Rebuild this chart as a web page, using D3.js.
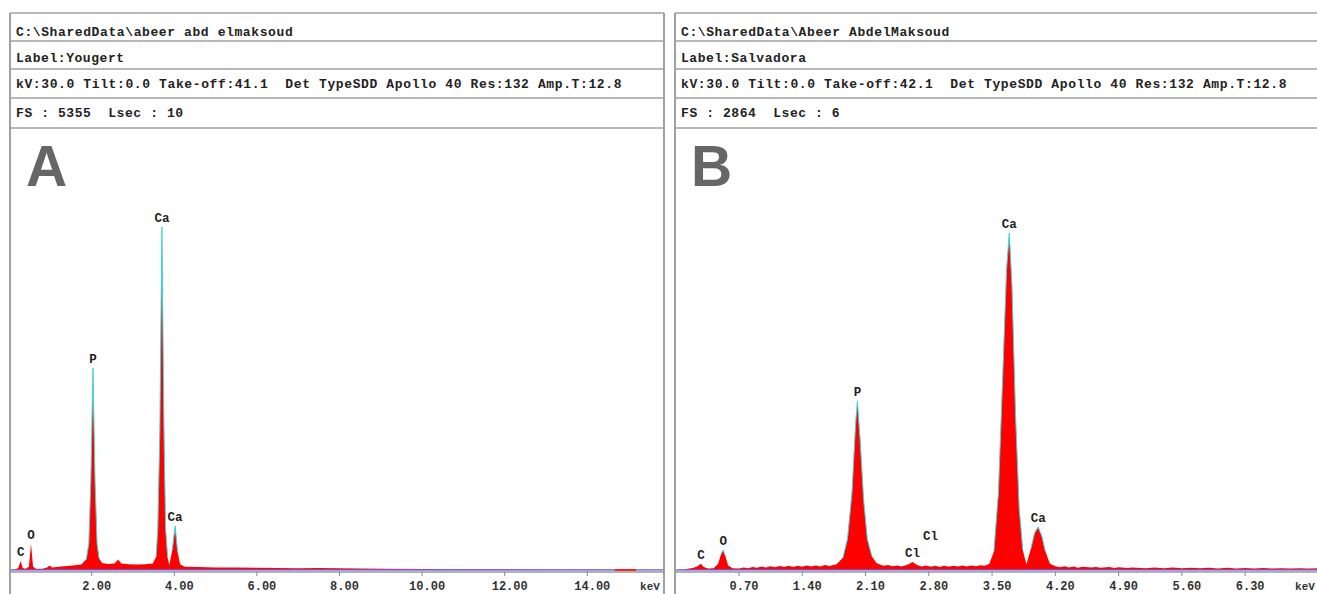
<!DOCTYPE html>
<html>
<head>
<meta charset="utf-8">
<script src="https://d3js.org/d3.v7.min.js"></script>
<style>
  body { margin: 0; background: #fff; }
</style>
</head>
<body>
<div id="my_dataviz"></div>
<script>

// header lines of the two EDS panels
var headerA = ["C:\\SharedData\\abeer abd elmaksoud", "Label:Yougert",
  "kV:30.0 Tilt:0.0 Take-off:41.1  Det TypeSDD Apollo 40 Res:132 Amp.T:12.8", "FS : 5355  Lsec : 10"];
var headerB = ["C:\\SharedData\\Abeer AbdelMaksoud", "Label:Salvadora",
  "kV:30.0 Tilt:0.0 Take-off:42.1  Det TypeSDD Apollo 40 Res:132 Amp.T:12.8", "FS : 2864  Lsec : 6"];

// x ticks (keV)
var ticksA = [2, 4, 6, 8, 10, 12, 14];
var ticksB = [0.7, 1.4, 2.1, 2.8, 3.5, 4.2, 4.9, 5.6, 6.3];

// spectrum A : [keV, counts]
var spectrumA = [
  [0.00, 0], [0.15, 10], [0.22, 25], [0.28, 110], [0.33, 25], [0.40, 15],
  [0.48, 40], [0.53, 320], [0.58, 40], [0.65, 15], [0.80, 15], [0.92, 30],
  [0.98, 55], [1.04, 30], [1.20, 40], [1.40, 48], [1.60, 58], [1.75, 68],
  [1.87, 130], [1.93, 320], [1.98, 1100], [2.03, 2450], [2.08, 1100], [2.13, 320],
  [2.18, 140], [2.25, 85], [2.40, 72], [2.55, 80], [2.64, 125], [2.72, 80],
  [2.90, 70], [3.10, 68], [3.30, 70], [3.48, 80], [3.56, 160], [3.60, 500],
  [3.65, 1700], [3.70, 4165], [3.75, 1700], [3.79, 500], [3.84, 150], [3.88, 60],
  [3.95, 240], [4.02, 535], [4.08, 220], [4.14, 70], [4.25, 40], [4.60, 35],
  [5.00, 30], [5.50, 30], [6.00, 28], [6.50, 25], [7.00, 22], [7.50, 25],
  [8.00, 20], [8.50, 18], [9.00, 15], [10.0, 12], [11.0, 10], [12.0, 8],
  [13.0, 6], [14.0, 5], [15.85, 4]
];

// spectrum B : [keV, counts]
var spectrumB = [
  [0.00, 0], [0.10, 5], [0.20, 15], [0.24, 25], [0.28, 40], [0.31, 20],
  [0.36, 10], [0.42, 12], [0.47, 40], [0.50, 100], [0.525, 130], [0.55, 90],
  [0.58, 30], [0.63, 12], [0.70, 10], [0.75, 16], [0.80, 12], [0.85, 19], [0.90, 15],
  [0.95, 22], [1.00, 16], [1.05, 24], [1.10, 18], [1.15, 26], [1.20, 19],
  [1.25, 27], [1.30, 20], [1.35, 28], [1.40, 21], [1.45, 29], [1.50, 22],
  [1.55, 30], [1.60, 23], [1.65, 32], [1.70, 26], [1.78, 38], [1.85, 80],
  [1.90, 200], [1.95, 500], [1.99, 950], [2.01, 1097], [2.04, 850], [2.08, 450],
  [2.12, 200], [2.17, 90], [2.22, 45], [2.26, 36], [2.30, 28], [2.35, 33],
  [2.40, 24], [2.45, 30], [2.50, 23], [2.57, 35], [2.62, 52], [2.67, 32],
  [2.72, 22], [2.77, 29], [2.82, 21], [2.87, 28], [2.92, 20], [2.97, 27],
  [3.02, 21], [3.07, 28], [3.12, 22], [3.17, 29], [3.22, 23], [3.27, 30],
  [3.32, 24], [3.37, 31], [3.42, 28], [3.47, 40], [3.52, 120], [3.57, 500],
  [3.62, 1300], [3.66, 1950], [3.69, 2189], [3.72, 1850], [3.76, 1000], [3.80, 400],
  [3.84, 130], [3.88, 35], [3.93, 140], [3.97, 240], [4.01, 280], [4.05, 220],
  [4.09, 120], [4.14, 40], [4.20, 25], [4.25, 18], [4.30, 24], [4.35, 16],
  [4.40, 22], [4.45, 15], [4.50, 21], [4.60, 16], [4.65, 20], [4.70, 14],
  [4.80, 19], [4.85, 13], [4.90, 18], [5.00, 13], [5.05, 17], [5.20, 12],
  [5.30, 17], [5.40, 12], [5.50, 16], [5.60, 11], [5.70, 15], [5.80, 11],
  [5.90, 14], [6.00, 10], [6.10, 14], [6.20, 10], [6.30, 13], [6.40, 9],
  [6.50, 13], [6.60, 9], [6.70, 12], [6.80, 9], [6.90, 12], [7.00, 9],
  [7.12, 11]
];

// element labels : name, keV, counts at label
var labelsA = [["C", 0.28, 110], ["O", 0.53, 320], ["P", 2.03, 2450], ["Ca", 3.70, 4165], ["Ca", 4.02, 535]];
var labelsB = [["C", 0.28, 40], ["O", 0.525, 130], ["P", 2.01, 1097], ["Cl", 2.62, 52], ["Cl", 2.82, 160],
  ["Ca", 3.69, 2189], ["Ca", 4.01, 280]];

// red ROI marker in panel A (keV)
var roiA = [14.67, 15.18];

var svg = d3.select("#my_dataviz")
  .append("svg")
    .attr("width", 1317)
    .attr("height", 594);

function drawPanel(p) {
  var g = svg.append("g");
  var plotTop = 128, base = 570;

  var x = d3.scaleLinear().domain(p.domain).range(p.range);
  var y = d3.scaleLinear().domain([0, p.fs]).range([base, plotTop + 1]);

  // header rows
  var rows = [13, 41, 69, 98, 128];
  rows.forEach(function (r) {
    g.append("line")
      .attr("x1", p.left).attr("x2", p.right)
      .attr("y1", r).attr("y2", r)
      .attr("stroke", "#a0a0a0").attr("stroke-width", 1.5);
  });
  g.selectAll("text.hdr")
    .data(p.header)
    .enter()
    .append("text")
      .attr("class", "hdr")
      .attr("x", p.left + 6)
      .attr("y", function (d, i) { return [36, 62, 88, 117][i]; })
      .attr("xml:space", "preserve")
      .style("white-space", "pre")
      .style("font-family", "Liberation Mono")
      .style("font-weight", "bold")
      .style("font-size", "13px")
      .attr("fill", "#222")
      .attr("textLength", function (d) { return d.length * 8.43 - 1.5; })
      .attr("lengthAdjust", "spacing")
      .text(function (d) { return d; });

  // side borders
  [p.left, p.right].forEach(function (bx) {
    g.append("line")
      .attr("x1", bx).attr("x2", bx)
      .attr("y1", 13).attr("y2", 594)
      .attr("stroke", "#a0a0a0").attr("stroke-width", 2);
  });

  // big panel letter
  g.append("text")
    .attr("x", p.left + 16)
    .attr("y", 186)
    .style("font-family", "Liberation Sans")
    .style("font-weight", "bold")
    .style("font-size", "57px")
    .attr("fill", "#666")
    .text(p.letter);

  // spectrum fill
  var area = d3.area()
    .x(function (d) { return x(d[0]); })
    .y0(base)
    .y1(function (d) { return y(d[1]); });
  g.append("path")
    .datum(p.spectrum)
    .attr("d", area)
    .attr("fill", "#ff0000");

  // background line
  g.append("line")
    .attr("x1", p.left + 1).attr("x2", p.right - 1)
    .attr("y1", base).attr("y2", base)
    .attr("stroke", "#6b6bff").attr("stroke-width", 1.5)
    .attr("opacity", 0.9);

  // cyan outline on the peak tips
  var line = d3.line()
    .defined(function (d) { return d[1] > p.cut; })
    .x(function (d) { return x(d[0]); })
    .y(function (d) { return y(d[1]); });
  g.append("path")
    .datum(p.spectrum)
    .attr("d", line)
    .attr("fill", "none")
    .attr("stroke", "#3fd9d9")
    .attr("stroke-width", 1);

  // roi marker
  if (p.roi) {
    g.append("line")
      .attr("x1", x(p.roi[0])).attr("x2", x(p.roi[1]))
      .attr("y1", base).attr("y2", base)
      .attr("stroke", "#ff2020").attr("stroke-width", 2);
  }

  // x axis
  g.append("line")
    .attr("x1", p.left).attr("x2", p.right)
    .attr("y1", base + 2).attr("y2", base + 2)
    .attr("stroke", "#999").attr("stroke-width", 1.5);
  g.selectAll("line.tick")
    .data(p.ticks)
    .enter()
    .append("line")
      .attr("class", "tick")
      .attr("x1", function (d) { return x(d); })
      .attr("x2", function (d) { return x(d); })
      .attr("y1", base + 2).attr("y2", base + 6)
      .attr("stroke", "#888");
  g.selectAll("text.tl")
    .data(p.ticks)
    .enter()
    .append("text")
      .attr("class", "tl")
      .attr("x", function (d) { return x(d) + 5; })
      .attr("y", 590)
      .attr("text-anchor", "middle")
      .style("font-family", "Liberation Mono")
      .style("font-weight", "bold")
      .style("font-size", "12px")
      .attr("fill", "#333")
      .text(function (d) { return d3.format(".2f")(d); });
  g.append("text")
    .attr("x", p.right - 14)
    .attr("y", 590)
    .attr("text-anchor", "middle")
    .style("font-family", "Liberation Mono")
    .style("font-weight", "bold")
    .style("font-size", "11px")
    .attr("fill", "#333")
    .text("keV");

  // element labels
  g.selectAll("text.el")
    .data(p.labels)
    .enter()
    .append("text")
      .attr("class", "el")
      .attr("x", function (d) { return x(d[1]); })
      .attr("y", function (d) { return y(d[2]) - 5; })
      .attr("text-anchor", "middle")
      .style("font-family", "Liberation Mono")
      .style("font-weight", "bold")
      .style("font-size", "12.5px")
      .attr("fill", "#222")
      .text(function (d) { return d[0]; });
}

drawPanel({ letter: "A", left: 10, right: 664, domain: [0, 15.85], range: [9.1, 663.7],
  fs: 5355, spectrum: spectrumA, labels: labelsA, ticks: ticksA, header: headerA, cut: 100, roi: roiA });
drawPanel({ letter: "B", left: 675, right: 1319, domain: [0, 7.12], range: [675.7, 1319.3],
  fs: 2864, spectrum: spectrumB, labels: labelsB, ticks: ticksB, header: headerB, cut: 60 });

</script>
</body>
</html>
